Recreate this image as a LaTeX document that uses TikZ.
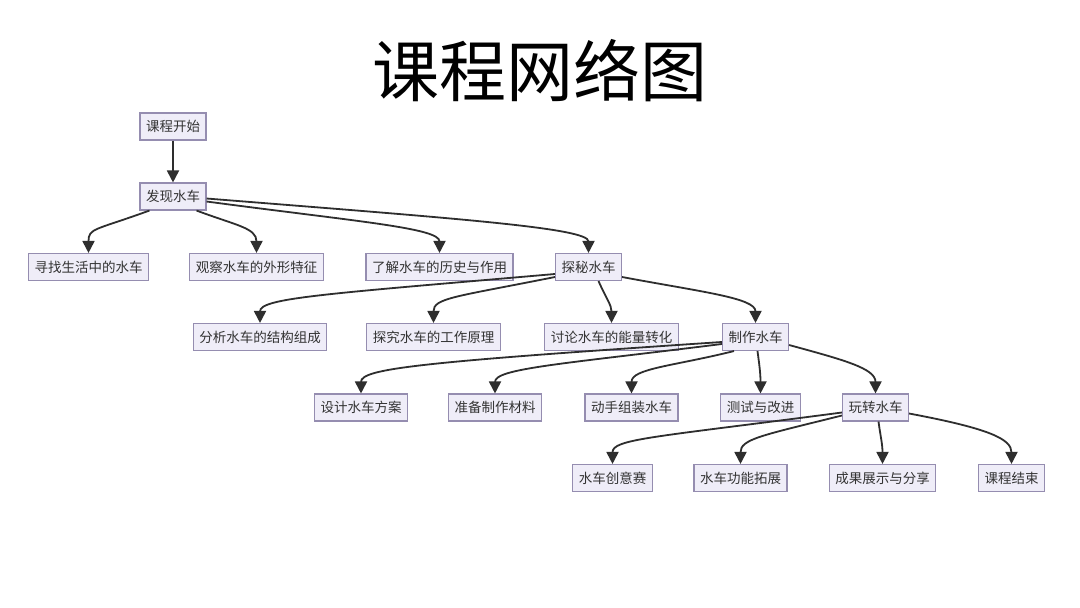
\documentclass[tikz,border=0pt]{standalone}
\usepackage{fontspec}
\setmainfont{Noto Sans CJK SC}
\usetikzlibrary{arrows.meta}
\definecolor{nodefill}{HTML}{EFEDF8}
\definecolor{nodeborder}{HTML}{958DB0}
\definecolor{edgecol}{HTML}{2E2E2E}
\definecolor{txt}{HTML}{333333}
\tikzset{
  box/.style={draw=nodeborder, fill=nodefill, line width=1.1pt, minimum height=27pt,
    inner xsep=6pt, inner ysep=0pt, text=txt, font=\fontsize{13.5}{15}\selectfont},
  edge/.style={draw=edgecol, line width=1.8pt, -{Triangle[length=12pt,width=12pt]}}
}
\begin{document}
\begin{tikzpicture}[x=1pt,y=-1pt]
\useasboundingbox (0,0) rectangle (1080,608);
\fill[white] (0,0) rectangle (1080,608);
\node[text=black, font=\fontsize{67}{70}\selectfont] (title) at (540,71) {课程网络图};

\node[box] (s)  at (173,126.5) {课程开始};
\node[box] (f)  at (173,196.5) {发现水车};
\node[box] (f1) at (88.5,267) {寻找生活中的水车};
\node[box] (f2) at (256.5,267) {观察水车的外形特征};
\node[box] (f3) at (439.5,267) {了解水车的历史与作用};
\node[box] (t)  at (588.5,267) {探秘水车};
\node[box] (t1) at (260,337) {分析水车的结构组成};
\node[box] (t2) at (433.5,337) {探究水车的工作原理};
\node[box] (t3) at (611.5,337) {讨论水车的能量转化};
\node[box] (m)  at (755.5,337) {制作水车};
\node[box] (m1) at (361,407.5) {设计水车方案};
\node[box] (m2) at (495,407.5) {准备制作材料};
\node[box] (m3) at (631.5,407.5) {动手组装水车};
\node[box] (m4) at (760.5,407.5) {测试与改进};
\node[box] (p)  at (875.5,407.5) {玩转水车};
\node[box] (p1) at (612.5,478) {水车创意赛};
\node[box] (p2) at (740.5,478) {水车功能拓展};
\node[box] (p3) at (882.5,478) {成果展示与分享};
\node[box] (p4) at (1011.5,478) {课程结束};

\draw[edge] (s) -- (f);
\draw[edge] ([xshift=10pt]f.south west) .. controls +(-55,20) and +(0,-25) .. (f1.north);
\draw[edge] ([xshift=-10pt]f.south east) .. controls +(40,15) and +(0,-25) .. (f2.north);
\draw[edge] ([yshift=-5pt]f.east) .. controls +(150,20) and +(0,-25) .. (f3.north);
\draw[edge] ([yshift=-2pt]f.east) .. controls +(250,20) and +(0,-25) .. (t.north);

\draw[edge] ([yshift=-7pt]t.west) .. controls +(-230,20) and +(0,-25) .. (t1.north);
\draw[edge] ([yshift=-10pt]t.west) .. controls +(-100,20) and +(0,-25) .. (t2.north);
\draw[edge] ([xshift=10pt]t.south) .. controls +(8,18) and +(0,-18) .. (t3.north);
\draw[edge] ([yshift=-10pt]t.east) .. controls +(80,15) and +(0,-25) .. (m.north);

\draw[edge] ([yshift=-5pt]m.west) .. controls +(-300,20) and +(0,-25) .. (m1.north);
\draw[edge] ([yshift=-7pt]m.west) .. controls +(-160,20) and +(0,-25) .. (m2.north);
\draw[edge] ([xshift=12pt]m.south west) .. controls +(-60,15) and +(0,-25) .. (m3.north);
\draw[edge] ([xshift=2pt]m.south) .. controls +(2,15) and +(0,-20) .. (m4.north);
\draw[edge] ([yshift=-8pt]m.east) .. controls +(55,15) and +(0,-25) .. (p.north);

\draw[edge] ([yshift=-5pt]p.west) .. controls +(-190,25) and +(0,-25) .. (p1.north);
\draw[edge] ([yshift=-8pt]p.west) .. controls +(-80,20) and +(0,-25) .. (p2.north);
\draw[edge] ([xshift=3pt]p.south) .. controls +(2,15) and +(0,-20) .. (p3.north);
\draw[edge] ([yshift=-6pt]p.east) .. controls +(80,15) and +(0,-25) .. (p4.north);
\end{tikzpicture}
\end{document}
